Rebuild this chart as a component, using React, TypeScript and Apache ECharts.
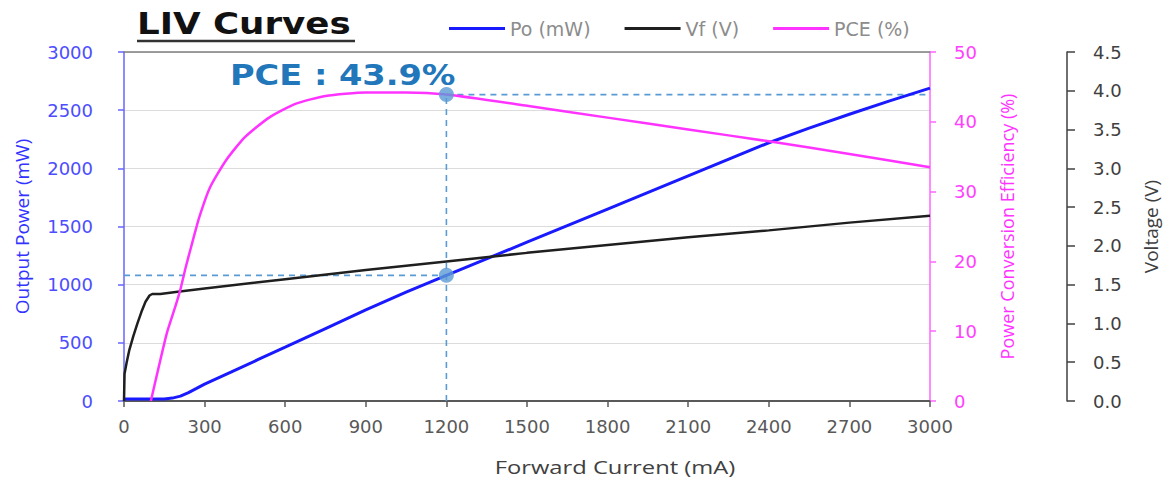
import React, { useEffect, useRef } from "react";
import * as echarts from "echarts";

// ---- data ----
const poCurrent = [0, 100, 150, 180, 210, 240, 270, 300, 400, 500, 600, 750, 900, 1050, 1200, 1500, 1800, 2100, 2400, 2550, 2700, 2850, 3000];
const poValues = [17, 17, 18, 25, 42, 72, 108, 145, 250, 357, 463, 623, 783, 935, 1080, 1365, 1650, 1935, 2220, 2345, 2465, 2580, 2690];

const vfCurrent = [0, 2, 10, 20, 35, 50, 65, 80, 95, 105, 135, 200, 300, 600, 900, 1200, 1500, 1800, 2100, 2400, 2700, 3000];
const vfValues = [0, 0.35, 0.5, 0.66, 0.84, 1.0, 1.15, 1.28, 1.36, 1.38, 1.38, 1.41, 1.45, 1.57, 1.69, 1.8, 1.91, 2.01, 2.11, 2.2, 2.3, 2.39];

const pceCurrent = [100, 130, 160, 190, 210, 230, 250, 280, 320, 380, 450, 540, 640, 750, 900, 1050, 1200, 1500, 1800, 2100, 2400, 2700, 3000];
const pceValues = [0, 5, 9.8, 13.4, 16.0, 19.2, 22.1, 26.3, 30.6, 34.5, 37.8, 40.6, 42.6, 43.7, 44.2, 44.2, 43.9, 42.3, 40.6, 38.9, 37.2, 35.4, 33.5];

const markerCurrent = 1200;
const markerPce = 43.9;
const markerPo = 1080;

const seriesNames = ["Po (mW)", "Vf (V)", "PCE (%)"];
const titleText = "LIV Curves";
const annotationText = "PCE : 43.9%";
const xAxisName = "Forward Current (mA)";
const poAxisName = "Output Power (mW)";
const pceAxisName = "Power Conversion Efficiency (%)";
const vAxisName = "Voltage (V)";

const zip = (xs: number[], ys: number[]) => xs.map((x, i) => [x, ys[i]]);

const LABEL_FONT = "DejaVu Sans";
const NAME_FONT = "Open Sans";
const plain = (v: number) => String(v);

export default function App() {
  const ref = useRef<HTMLDivElement>(null);

  useEffect(() => {
    if (!ref.current) return;
    const chart = echarts.init(ref.current, undefined, { renderer: "svg" });
    const guide = {
      type: "line" as const,
      showSymbol: false,
      symbol: "none",
      silent: true,
      lineStyle: { color: "#5b9bd5", width: 1.6, type: [6, 5] as any },
      z: 3,
    };
    chart.setOption({
      animation: false,
      backgroundColor: "#ffffff",
      grid: { left: 124, right: 240, top: 52, bottom: 80, containLabel: false },
      legend: {
        data: seriesNames,
        left: 449,
        top: 19,
        padding: 0,
        icon: "rect",
        itemWidth: 56,
        itemHeight: 3,
        itemGap: 34,
        textStyle: { color: "#8c8c8c", fontSize: 19, fontFamily: LABEL_FONT },
      },
      xAxis: [
        {
          type: "value",
          min: 0,
          max: 3000,
          interval: 300,
          position: "bottom",
          axisLine: { show: true, onZero: false, lineStyle: { color: "#595959", width: 2 } },
          axisTick: { show: true, length: 6, lineStyle: { color: "#595959", width: 1.5 } },
          axisLabel: { color: "#595959", fontSize: 18, fontFamily: LABEL_FONT, margin: 16, formatter: plain },
          splitLine: { show: false },
        },
        {
          type: "value",
          min: 0,
          max: 3000,
          position: "top",
          axisLine: { show: true, onZero: false, lineStyle: { color: "#808080", width: 1.5 } },
          axisTick: { show: false },
          axisLabel: { show: false },
          splitLine: { show: false },
        },
      ],
      yAxis: [
        {
          type: "value",
          min: 0,
          max: 3000,
          interval: 500,
          position: "left",
          name: poAxisName,
          nameLocation: "middle",
          nameGap: 93,
          nameRotate: 90,
          nameTextStyle: { color: "#3333ff", fontSize: 19, fontFamily: NAME_FONT },
          axisLine: { show: true, onZero: false, lineStyle: { color: "#6666ff", width: 1.5 } },
          axisTick: { show: true, length: 6, lineStyle: { color: "#6666ff", width: 1.5 } },
          axisLabel: { color: "#4d4dff", fontSize: 18, fontFamily: LABEL_FONT, margin: 31, formatter: plain },
          splitLine: { show: true, lineStyle: { color: "#dcdcdc", width: 1 } },
        },
        {
          type: "value",
          min: 0,
          max: 50,
          interval: 10,
          position: "right",
          name: pceAxisName,
          nameLocation: "middle",
          nameGap: 68,
          nameRotate: 90,
          nameTextStyle: { color: "#ff33ff", fontSize: 18, fontFamily: NAME_FONT },
          axisLine: { show: true, onZero: false, lineStyle: { color: "#ff66ff", width: 1.5 } },
          axisTick: { show: true, length: 6, lineStyle: { color: "#ff66ff", width: 1.5 } },
          axisLabel: { color: "#ff40ff", fontSize: 18, fontFamily: LABEL_FONT, margin: 24 },
          splitLine: { show: false },
        },
        {
          type: "value",
          min: 0,
          max: 4.5,
          interval: 0.5,
          position: "right",
          offset: 137,
          name: vAxisName,
          nameLocation: "middle",
          nameGap: 74,
          nameRotate: 90,
          nameTextStyle: { color: "#404040", fontSize: 19, fontFamily: NAME_FONT },
          axisLine: { show: true, onZero: false, lineStyle: { color: "#404040", width: 1.5 } },
          axisTick: { show: true, length: 8, lineStyle: { color: "#404040", width: 1.5 } },
          axisLabel: {
            color: "#404040",
            fontSize: 18,
            fontFamily: LABEL_FONT,
            margin: 26,
            formatter: (v: number) => v.toFixed(1),
          },
          splitLine: { show: false },
        },
      ],
      series: [
        {
          name: seriesNames[0],
          type: "line",
          xAxisIndex: 0,
          yAxisIndex: 0,
          data: zip(poCurrent, poValues),
          showSymbol: false,
          smooth: false,
          color: "#1a1aff",
          lineStyle: { color: "#1a1aff", width: 3 },
          z: 4,
        },
        {
          name: seriesNames[1],
          type: "line",
          xAxisIndex: 0,
          yAxisIndex: 2,
          data: zip(vfCurrent, vfValues),
          showSymbol: false,
          smooth: false,
          color: "#1f1f1f",
          lineStyle: { color: "#1f1f1f", width: 2.5 },
          z: 4,
        },
        {
          name: seriesNames[2],
          type: "line",
          xAxisIndex: 0,
          yAxisIndex: 1,
          data: zip(pceCurrent, pceValues),
          showSymbol: false,
          smooth: 0.2,
          color: "#ff33ff",
          lineStyle: { color: "#ff33ff", width: 2.5 },
          z: 4,
        },
        {
          ...guide,
          name: "guide-pce-h",
          xAxisIndex: 0,
          yAxisIndex: 1,
          data: [
            [markerCurrent, markerPce],
            [3000, markerPce],
          ],
        },
        {
          ...guide,
          name: "guide-v",
          xAxisIndex: 0,
          yAxisIndex: 1,
          data: [
            [markerCurrent, 0],
            [markerCurrent, markerPce],
          ],
        },
        {
          ...guide,
          name: "guide-po-h",
          xAxisIndex: 0,
          yAxisIndex: 0,
          data: [
            [0, markerPo],
            [markerCurrent, markerPo],
          ],
        },
        {
          name: "dot-pce",
          type: "scatter",
          xAxisIndex: 0,
          yAxisIndex: 1,
          data: [[markerCurrent, markerPce]],
          symbolSize: 15,
          itemStyle: { color: "#5b9bd5" },
          silent: true,
          z: 6,
        },
        {
          name: "dot-po",
          type: "scatter",
          xAxisIndex: 0,
          yAxisIndex: 0,
          data: [[markerCurrent, markerPo]],
          symbolSize: 15,
          itemStyle: { color: "#5b9bd5" },
          silent: true,
          z: 6,
        },
      ],
      graphic: [
        {
          type: "text",
          x: 137,
          y: 23,
          scaleX: 1.15,
          style: {
            text: titleText,
            fontFamily: LABEL_FONT,
            fontWeight: "bold",
            fontSize: 31,
            fill: "#111111",
            textAlign: "left",
            textVerticalAlign: "middle",
          },
        },
        {
          type: "line",
          shape: { x1: 137, y1: 41, x2: 355, y2: 41 },
          style: { stroke: "#333333", lineWidth: 2.5 },
        },
        {
          type: "text",
          x: 230,
          y: 75,
          scaleX: 1.2,
          style: {
            text: annotationText,
            fontFamily: LABEL_FONT,
            fontWeight: "bold",
            fontSize: 28,
            fill: "#2277bb",
            textAlign: "left",
            textVerticalAlign: "middle",
          },
        },
        {
          type: "text",
          x: 615,
          y: 466,
          scaleX: 1.25,
          style: {
            text: xAxisName,
            fontFamily: NAME_FONT,
            fontSize: 19,
            fill: "#404040",
            textAlign: "center",
            textVerticalAlign: "middle",
          },
        },
      ],
    });
    return () => chart.dispose();
  }, []);

  return (
    <div
      ref={ref}
      style={{ position: "absolute", left: 0, top: 0, width: 1170, height: 481 }}
    />
  );
}
